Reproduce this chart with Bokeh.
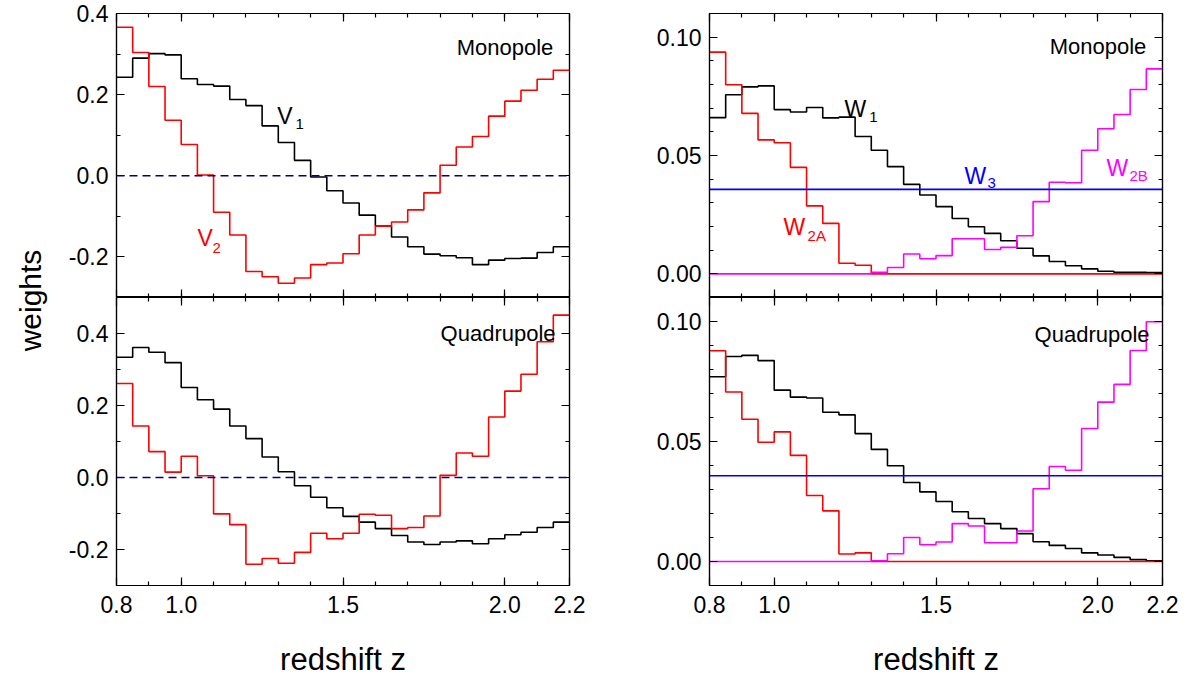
import numpy as np
from bokeh.plotting import figure
from bokeh.models import LinearAxis, FixedTicker, PrintfTickFormatter, Range1d, Span, Label
from bokeh.layouts import row, column
from bokeh.embed import file_html
from bokeh.resources import INLINE

FONT = "Liberation Sans"

# bin edges in redshift (28 bins of width 0.05)
z_edges = [round(0.8 + 0.05 * i, 2) for i in range(29)]

# left column: weights V1 (black) and V2 (red)
V1_mono = [0.243, 0.290, 0.301, 0.298, 0.239, 0.225, 0.221, 0.188, 0.173, 0.123, 0.082, 0.038, -0.003, -0.037,
           -0.067, -0.097, -0.124, -0.151, -0.175, -0.193, -0.197, -0.202, -0.219, -0.208, -0.204, -0.203, -0.189, -0.175]
V2_mono = [0.366, 0.304, 0.220, 0.137, 0.077, 0.002, -0.090, -0.146, -0.236, -0.249, -0.265, -0.252, -0.219, -0.215,
           -0.192, -0.146, -0.124, -0.114, -0.084, -0.042, 0.026, 0.071, 0.097, 0.147, 0.184, 0.211, 0.238, 0.260]
V1_quad = [0.334, 0.361, 0.348, 0.319, 0.250, 0.216, 0.190, 0.143, 0.108, 0.057, 0.016, -0.023, -0.055, -0.084,
           -0.108, -0.124, -0.142, -0.161, -0.179, -0.186, -0.179, -0.176, -0.184, -0.170, -0.159, -0.152, -0.139, -0.124]
V2_quad = [0.261, 0.143, 0.072, 0.015, 0.059, 0.005, -0.101, -0.131, -0.241, -0.225, -0.238, -0.208, -0.155, -0.170,
           -0.155, -0.102, -0.105, -0.142, -0.139, -0.107, 0.006, 0.068, 0.059, 0.168, 0.240, 0.287, 0.377, 0.451]

# right column: weights W1 (black), W2A (red), W2B (magenta), W3 (blue)
W1_mono = [0.0660, 0.0757, 0.0790, 0.0794, 0.0694, 0.0684, 0.0703, 0.0659, 0.0662, 0.0580, 0.0522, 0.0453, 0.0378, 0.0333,
           0.0284, 0.0234, 0.0199, 0.0171, 0.0140, 0.0108, 0.0076, 0.0052, 0.0034, 0.0021, 0.0011, 0.0006, 0.0006, 0.0005]
W2A_mono = [0.0937, 0.0799, 0.0678, 0.0566, 0.0554, 0.0450, 0.0287, 0.0213, 0.0045, 0.0036, 0.0, 0.0, 0.0, 0.0,
            0.0, 0.0, 0.0, 0.0, 0.0, 0.0, 0.0, 0.0, 0.0, 0.0, 0.0, 0.0, 0.0, 0.0]
W2B_mono = [0.0, 0.0, 0.0, 0.0, 0.0, 0.0, 0.0, 0.0, 0.0, 0.0, 0.0006, 0.0027, 0.0084, 0.0064,
            0.0077, 0.0148, 0.0148, 0.0103, 0.0112, 0.0161, 0.0305, 0.0387, 0.0385, 0.0522, 0.0613, 0.0673, 0.0779, 0.0866]
W3_mono = [0.0357] * 28
W1_quad = [0.0770, 0.0854, 0.0859, 0.0837, 0.0714, 0.0685, 0.0681, 0.0622, 0.0611, 0.0533, 0.0467, 0.0399, 0.0329, 0.0290,
           0.0250, 0.0207, 0.0179, 0.0158, 0.0137, 0.0116, 0.0082, 0.0067, 0.0054, 0.0036, 0.0027, 0.0017, 0.0008, 0.0003]
W2A_quad = [0.0878, 0.0706, 0.0593, 0.0497, 0.0540, 0.0442, 0.0275, 0.0211, 0.0031, 0.0036, 0.0, 0.0, 0.0, 0.0,
            0.0, 0.0, 0.0, 0.0, 0.0, 0.0, 0.0, 0.0, 0.0, 0.0, 0.0, 0.0, 0.0, 0.0]
W2B_quad = [0.0, 0.0, 0.0, 0.0, 0.0, 0.0, 0.0, 0.0, 0.0, 0.0, 0.0003, 0.0032, 0.0100, 0.0070,
            0.0081, 0.0158, 0.0148, 0.0078, 0.0078, 0.0127, 0.0303, 0.0396, 0.0380, 0.0554, 0.0664, 0.0738, 0.0879, 0.0999]
W3_quad = [0.0357] * 28

x_major = [0.8, 1.0, 1.5, 2.0, 2.2]
x_minor = [round(0.9 + 0.1 * i, 1) for i in range(13)]
left_major = [-0.2, 0.0, 0.2, 0.4]
left_minor = [-0.3, -0.1, 0.1, 0.3, 0.5]
right_major = [0.0, 0.05, 0.10]
right_minor = [round(-0.01 + 0.01 * i, 2) for i in range(13)]

TICK_FS = "23px"


def make_axis(p, side, major, minor, fmt, labels, axis_label=None):
    ax = LinearAxis(ticker=FixedTicker(ticks=major, minor_ticks=minor),
                    formatter=PrintfTickFormatter(format=fmt))
    ax.major_tick_in = 8
    ax.major_tick_out = 0
    ax.minor_tick_in = 4
    ax.minor_tick_out = 0
    ax.axis_line_color = "black"
    ax.axis_line_width = 1.2
    ax.major_tick_line_color = "black"
    ax.minor_tick_line_color = "black"
    ax.major_tick_line_width = 1.2
    ax.minor_tick_line_width = 1.2
    ax.major_label_text_font = FONT
    if labels:
        ax.major_label_text_color = "black"
        ax.major_label_text_font_size = TICK_FS
        ax.major_label_standoff = 10 if side == "below" else 8
    else:
        ax.major_label_text_color = None
        ax.major_label_text_font_size = "0px"
        ax.major_label_standoff = 0
    if axis_label:
        ax.axis_label = axis_label
        ax.axis_label_text_font = FONT
        ax.axis_label_text_font_size = "31px"
        ax.axis_label_text_font_style = "normal"
        ax.axis_label_text_color = "black"
        ax.axis_label_standoff = 26
    p.add_layout(ax, side)


def make_panel(top, left_col, yr, series, colors, dashed_zero):
    p = figure(frame_width=453, frame_height=284 if top else 288,
               x_range=Range1d(0.8, 2.2), y_range=Range1d(*yr),
               x_axis_location=None, y_axis_location=None,
               output_backend="svg", toolbar_location=None,
               min_border_left=68 if left_col else 69,
               min_border_right=71 if left_col else 20,
               min_border_top=13 if top else 0,
               min_border_bottom=0 if top else 20)
    p.grid.visible = False
    p.outline_line_color = "black"
    p.outline_line_width = 1.2
    p.background_fill_color = "white"
    p.border_fill_color = "white"
    if left_col:
        ymaj, ymin, yfmt = left_major, left_minor, "%.1f"
    else:
        ymaj, ymin, yfmt = right_major, right_minor, "%.2f"
    make_axis(p, "left", ymaj, ymin, yfmt, True)
    make_axis(p, "right", ymaj, ymin, yfmt, False)
    make_axis(p, "above", x_major, x_minor, "%.1f", False)
    make_axis(p, "below", x_major, x_minor, "%.1f", not top, None if top else "redshift z")
    if dashed_zero:
        p.add_layout(Span(location=0.0, dimension="width", line_color="#000080",
                          line_dash="8 5", line_width=1.6))
    for vals, col in zip(series, colors):
        p.step(x=z_edges, y=list(vals) + [vals[-1]], mode="after", line_color=col, line_width=1.6)
    return p


def add_text(p, x, y, text, size, color, align="left"):
    p.add_layout(Label(x=x, y=y, text=text, text_font=FONT, text_font_size=size,
                       text_color=color, text_align=align, text_baseline="alphabetic"))


def add_sub(p, x, y, main, sub, color, xs, ys):
    add_text(p, x, y, main, "23px", color)
    add_text(p, xs, ys, sub, "15px", color)


tl = make_panel(True, True, (-0.3, 0.4), [V1_mono, V2_mono], ["black", "#FF0000"], True)
bl = make_panel(False, True, (-0.3, 0.5), [V1_quad, V2_quad], ["black", "#FF0000"], True)
tr = make_panel(True, False, (-0.01, 0.11), [W1_mono, W2A_mono, W2B_mono, W3_mono],
                ["black", "#FF0000", "#FF00FF", "#0000FF"], False)
br = make_panel(False, False, (-0.01, 0.11), [W1_quad, W2A_quad, W2B_quad, W3_quad],
                ["black", "#FF0000", "#FF00FF", "#0000FF"], False)

add_text(tl, 2.15, 0.317, "Monopole", "22px", "black", "right")
add_text(bl, 2.157, 0.399, "Quadrupole", "22px", "black", "right")
add_text(tr, 2.15, 0.0961, "Monopole", "22px", "black", "right")
add_text(br, 2.16, 0.0947, "Quadrupole", "22px", "black", "right")

add_sub(tl, 1.297, 0.147, "V", "1", "black", 1.353, 0.127)
add_sub(tl, 1.050, -0.153, "V", "2", "#FF0000", 1.097, -0.178)
add_sub(tr, 1.217, 0.0697, "W", "1", "black", 1.294, 0.0663)
add_sub(tr, 1.029, 0.0197, "W", "2A", "#FF0000", 1.103, 0.0164)
add_sub(tr, 1.588, 0.0415, "W", "3", "#0000FF", 1.659, 0.0382)
add_sub(tr, 2.027, 0.0449, "W", "2B", "#FF00FF", 2.098, 0.0415)

lab = figure(width=48, height=600, output_backend="svg", toolbar_location=None,
             x_axis_location=None, y_axis_location=None, min_border=0,
             x_range=Range1d(0, 1), y_range=Range1d(0, 1))
lab.grid.visible = False
lab.outline_line_color = None
lab.add_layout(Label(x=30, y=300, x_units="screen", y_units="screen", text="weights",
                     angle=np.pi / 2, text_align="center", text_baseline="middle",
                     text_font=FONT, text_font_size="30px", text_color="black"))

layout = row(lab, column(tl, bl), column(tr, br))

open("out.html", "w").write(file_html(layout, INLINE))
